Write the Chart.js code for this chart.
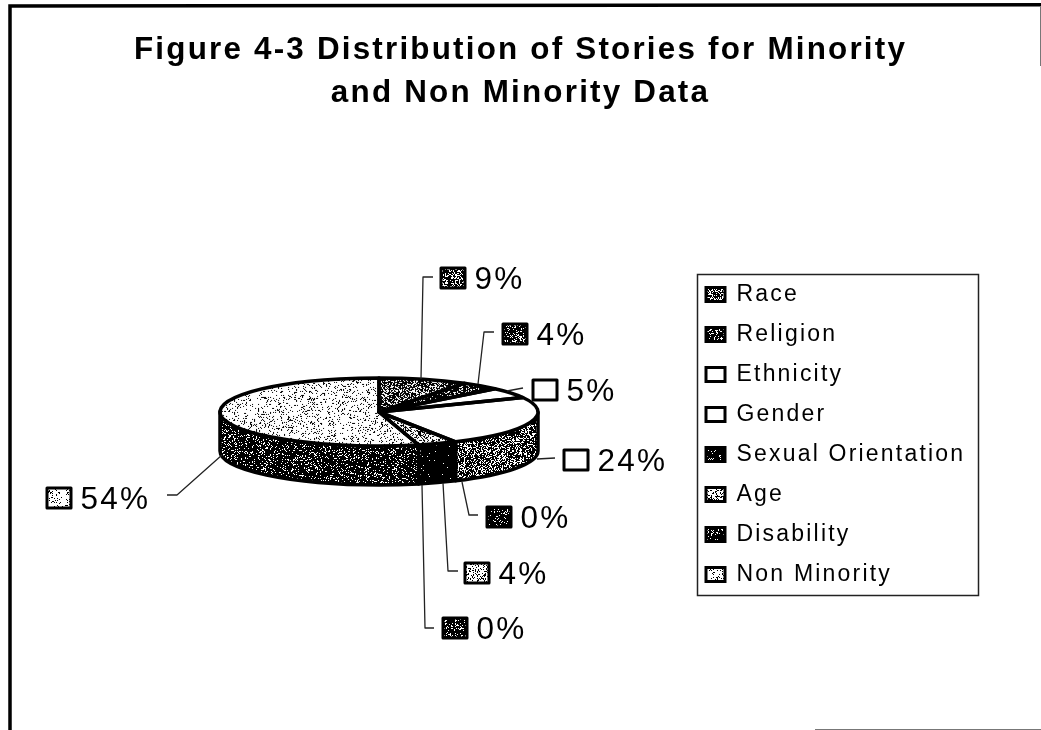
<!DOCTYPE html>
<html><head><meta charset="utf-8">
<style>html,body{margin:0;padding:0;background:#fff}#wrap{width:1041px;height:730px}canvas{display:block}</style>
<script src="https://cdn.jsdelivr.net/npm/chart.js@4"></script>
</head><body><div id="wrap"><canvas id="c" width="1041" height="730"></canvas></div>
<script>
const titleLines = ['Figure 4-3 Distribution of Stories for Minority', 'and Non Minority Data'];
const categories = ['Race','Religion','Ethnicity','Gender','Sexual Orientation','Age','Disability','Non Minority'];
const shares = [9,4,5,24,0,4,0,54];

// Styling, kept apart from the data
const topInk  = [0.62,0.78,0,0,0.88,0.30,0.84,0.13];
const wallInk = [0.75,0.85,0.5,0.66,0.95,0.98,0.95,0.84];
const FONT = 'Liberation Sans, Arial, sans-serif';
const SPACING = '2.2px';
const CX = 379, CY = 412, R = 159, RY = 34, DEPTH = 39, K = RY / R;
// label layout: swatch x,y, leader points
const labelLayout = [
  {sx:441,sy:268,lead:[[421,379],[423,277],[433,277]]},
  {sx:503,sy:324,lead:[[478,384],[484,332],[494,332]]},
  {sx:533,sy:380,lead:[[507,391],[523,388]]},
  {sx:564,sy:450,lead:[[537,459],[555,458]]},
  {sx:487,sy:507,lead:[[462,482],[469,515],[478,515]]},
  {sx:465,sy:563,lead:[[443,483],[448,571],[458,571]]},
  {sx:443,sy:618,lead:[[422,485],[425,628],[434,628]]},
  {sx:47,sy:488,lead:[[222,455],[177,495],[167,495]]}
];

function stipple(ink, seed){
  const n = 131, cv = document.createElement('canvas');
  cv.width = cv.height = n;
  const g = cv.getContext('2d'), im = g.createImageData(n,n);
  let s = (seed*7919+17)>>>0;
  const next = () => { s = (Math.imul(s,1664525)+1013904223)>>>0; return (s>>>8)/16777216; };
  for(let i=0;i<n*n;i++){
    const v = next()<ink ? 0 : 255;
    im.data[i*4]=im.data[i*4+1]=im.data[i*4+2]=v; im.data[i*4+3]=255;
  }
  g.putImageData(im,0,0);
  return g.createPattern(cv,'repeat');
}
const flatFill = topInk.map((d,i)=>stipple(d,i+1));
const tiltedFill = topInk.map((d,i)=>{
  const p = stipple(d,i+1);
  p.setTransform(new DOMMatrix().scale(1,1/K));
  return p;
});
const wallFill = wallInk.map((d,i)=>stipple(d,i+40));

const tiltPie = {
  id:'tiltPie',
  beforeLayout(chart){ chart.ctx.letterSpacing = SPACING; },
  afterLayout(chart){
    const a = chart.chartArea;
    a.left = CX-R-10; a.right = CX+R+10; a.width = a.right-a.left;
    a.top = CY-R-10; a.bottom = CY+R+10; a.height = a.bottom-a.top;
    const l = chart.legend;
    const w = l.width, h = l.height;
    l.left = 689; l.top = 266; l.right = l.left+w; l.bottom = l.top+h;
  },
  beforeDraw(chart){
    const c = chart.ctx;
    c.letterSpacing = SPACING;
    c.save();
    c.strokeStyle='#000'; c.lineWidth=3.5;
    c.beginPath(); c.moveTo(10,730); c.lineTo(10,6); c.lineTo(1041,4.8); c.stroke();
    c.strokeStyle='#777'; c.lineWidth=1;
    c.beginPath(); c.moveTo(1040.5,6); c.lineTo(1040.5,66); c.stroke();
    c.beginPath(); c.moveTo(815,729.5); c.lineTo(1041,729.5); c.stroke();
    c.strokeStyle='#222'; c.lineWidth=1.5;
    c.strokeRect(697.5,274.5,281,321);
    c.restore();
  },
  beforeDatasetsDraw(chart){
    const c = chart.ctx, arcs = chart.getDatasetMeta(0).data;
    c.save();
    c.lineWidth = 3.5; c.strokeStyle='#000'; c.lineJoin='round';
    arcs.forEach((arc,i)=>{
      const a = Math.max(arc.startAngle,0), b = Math.min(arc.endAngle,Math.PI);
      if(b<=a) return;
      c.beginPath();
      c.ellipse(arc.x,arc.y,R,RY,0,a,b);
      c.ellipse(arc.x,arc.y+DEPTH,R,RY,0,b,a,true);
      c.closePath();
      c.fillStyle = wallFill[i]; c.fill(); c.stroke();
    });
    c.restore();
    c.save();
    c.translate(CX,CY); c.scale(1,K); c.translate(-CX,-CY);
  },
  afterDatasetsDraw(chart){
    const c = chart.ctx, arcs = chart.getDatasetMeta(0).data;
    c.restore();
    c.save();
    c.strokeStyle='#000'; c.lineWidth=3.5; c.lineJoin='round';
    arcs.forEach(arc=>{
      if(arc.endAngle-arc.startAngle<=0) return;
      c.beginPath();
      c.moveTo(arc.x,arc.y);
      c.ellipse(arc.x,arc.y,R,RY,0,arc.startAngle,arc.endAngle);
      c.closePath(); c.stroke();
    });
    // data labels
    c.font = '31.5px '+FONT; c.textBaseline='middle'; c.fillStyle='#000';
    labelLayout.forEach((L,i)=>{
      c.lineWidth=1.3; c.strokeStyle='#222';
      c.beginPath();
      L.lead.forEach((p,j)=> j? c.lineTo(p[0],p[1]) : c.moveTo(p[0],p[1]));
      c.stroke();
      c.fillStyle = flatFill[i]; c.fillRect(L.sx,L.sy,24,20);
      c.lineWidth=3; c.strokeStyle='#000'; c.strokeRect(L.sx,L.sy,24,20);
      c.fillStyle='#000';
      c.fillText(shares[i]+'%', L.sx+33.5, L.sy+12);
    });
    c.restore();
  }
};

new Chart(document.getElementById('c'),{
  type:'pie',
  data:{labels:categories,datasets:[{data:shares,backgroundColor:tiltedFill,borderWidth:0,radius:R}]},
  plugins:[tiltPie],
  options:{
    responsive:false,animation:false,events:[],
    plugins:{
      title:{display:true,text:titleLines,color:'#000',align:'center',
        font:{family:FONT,size:31.4,weight:'bold',lineHeight:1.37},padding:{top:29,bottom:10}},
      tooltip:{enabled:false},
      legend:{display:true,position:'right',align:'start',
        labels:{color:'#000',boxWidth:19,boxHeight:14,padding:17,font:{family:FONT,size:23},
          generateLabels(chart){
            return categories.map((t,i)=>({text:t,fillStyle:flatFill[i],strokeStyle:'#000',lineWidth:3,index:i,hidden:false}));
          }}}
    }
  }
});
</script></body></html>
